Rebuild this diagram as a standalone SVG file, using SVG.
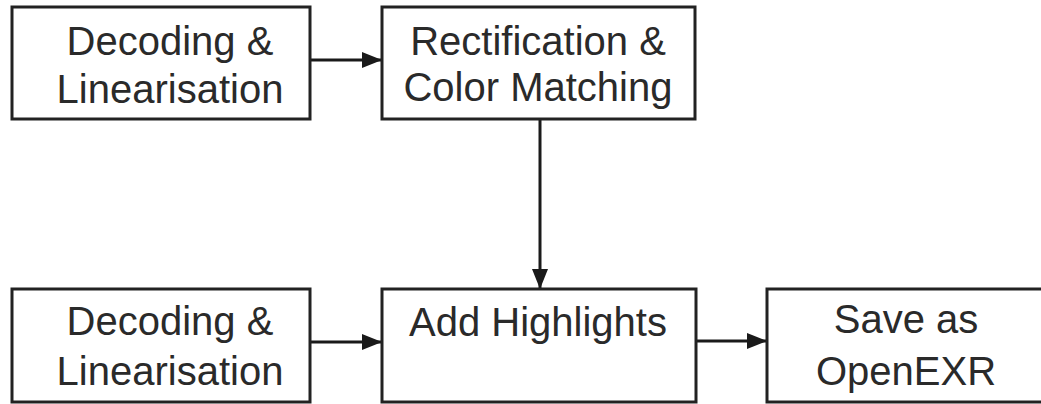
<svg xmlns="http://www.w3.org/2000/svg" width="1041" height="404" viewBox="0 0 1041 404">
<defs>
<marker id="ah" markerWidth="20" markerHeight="16" refX="20" refY="8" orient="auto" markerUnits="userSpaceOnUse">
<path d="M0,0 L20,8 L0,16 Z" fill="#1a1a1a"/>
</marker>
<style>
.box{fill:#fff;stroke:#222;stroke-width:3}
.t{font-family:"Liberation Sans",Arial,sans-serif;font-size:40px;fill:#2a2a2a;text-anchor:middle}
.c{stroke:#1a1a1a;stroke-width:3;fill:none}
</style>
</defs>
<rect width="1041" height="404" fill="#fff"/>
<g id="connectors">
<line class="c" x1="310" y1="60" x2="382" y2="60" marker-end="url(#ah)"/>
<line class="c" x1="540" y1="119" x2="540" y2="289" marker-end="url(#ah)"/>
<line class="c" x1="310" y1="342" x2="382" y2="342" marker-end="url(#ah)"/>
<line class="c" x1="696" y1="341" x2="767" y2="341" marker-end="url(#ah)"/>
</g>
<g id="decode1">
<rect class="box" x="12" y="7" width="298" height="112"/>
<text class="t" x="170" y="55">Decoding &amp;</text>
<text class="t" x="170" y="103">Linearisation</text>
</g>
<g id="rectify">
<rect class="box" x="382" y="7" width="313" height="112"/>
<text class="t" x="538" y="55">Rectification &amp;</text>
<text class="t" x="538" y="101">Color Matching</text>
</g>
<g id="decode2">
<rect class="box" x="12" y="289" width="298" height="113"/>
<text class="t" x="170" y="335">Decoding &amp;</text>
<text class="t" x="170" y="385">Linearisation</text>
</g>
<g id="highlights">
<rect class="box" x="382" y="289" width="314" height="113"/>
<text class="t" x="538" y="336">Add Highlights</text>
</g>
<g id="save">
<rect class="box" x="767" y="289" width="290" height="113"/>
<text class="t" x="906" y="333">Save as</text>
<text class="t" x="906" y="385">OpenEXR</text>
</g>
</svg>
